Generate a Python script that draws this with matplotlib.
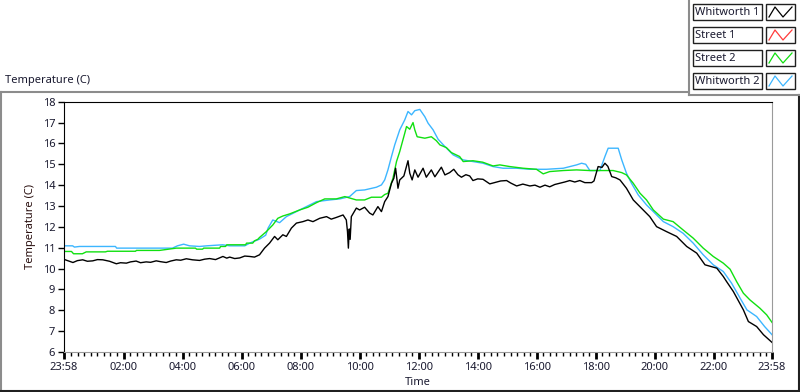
import matplotlib
matplotlib.use("Agg")
import matplotlib.pyplot as plt
from matplotlib.lines import Line2D
from matplotlib.patches import Rectangle

# hours after 23:58 (start of the record) and temperatures in C
w1_hours = [0, 0.14, 0.32, 0.47, 0.65, 0.81, 0.99, 1.15, 1.33, 1.56, 1.79, 1.93, 2.13, 2.27,
            2.46, 2.61, 2.80, 2.95, 3.14, 3.29, 3.48, 3.63, 3.82, 3.97, 4.16, 4.37, 4.61, 4.78,
            4.95, 5.15, 5.40, 5.53, 5.63, 5.80, 5.97, 6.14, 6.31, 6.47, 6.64, 6.81, 6.98, 7.15,
            7.26, 7.43, 7.55, 7.72, 7.89, 8.11, 8.28, 8.45, 8.68, 8.91, 9.07, 9.24, 9.47, 9.58,
            9.62, 9.65, 9.68, 9.71, 9.75, 9.92, 10.03, 10.20, 10.37, 10.48, 10.65, 10.77, 10.88,
            10.99, 11.11, 11.19, 11.25, 11.33, 11.39, 11.53, 11.67, 11.73, 11.81, 11.90, 12.01,
            12.18, 12.29, 12.46, 12.58, 12.80, 12.92, 13.08, 13.22, 13.36, 13.48, 13.63, 13.76,
            13.87, 14.03, 14.21, 14.44, 14.67, 14.81, 15.01, 15.15, 15.35, 15.56, 15.80, 15.97,
            16.14, 16.31, 16.47, 16.64, 16.81, 16.98, 17.15, 17.32, 17.49, 17.66, 17.89, 17.97,
            18.11, 18.24, 18.34, 18.44, 18.57, 18.71, 18.85, 19.07, 19.30, 19.58, 19.86, 20.09,
            20.43, 20.77, 21.11, 21.45, 21.73, 22.13, 22.35, 22.46, 22.69, 23.03, 23.20, 23.48,
            23.71, 24.0]
w1_temp = [10.45, 10.38, 10.29, 10.38, 10.42, 10.35, 10.37, 10.43, 10.42, 10.35, 10.23, 10.28,
           10.26, 10.32, 10.36, 10.28, 10.32, 10.30, 10.37, 10.33, 10.29, 10.36, 10.42, 10.40,
           10.47, 10.42, 10.39, 10.45, 10.48, 10.43, 10.58, 10.50, 10.55, 10.48, 10.51, 10.60,
           10.58, 10.55, 10.66, 10.98, 11.22, 11.54, 11.38, 11.62, 11.54, 11.94, 12.18, 12.25,
           12.33, 12.25, 12.41, 12.49, 12.37, 12.45, 12.57, 12.33, 11.77, 10.98, 11.90, 11.40,
           12.49, 12.90, 12.81, 12.94, 12.66, 12.57, 12.97, 12.73, 13.21, 13.45, 14.09, 14.33,
           14.81, 13.85, 14.25, 14.44, 15.17, 14.57, 14.25, 14.73, 14.38, 14.81, 14.38, 14.73,
           14.40, 14.86, 14.49, 14.60, 14.76, 14.50, 14.38, 14.50, 14.44, 14.22, 14.30, 14.28,
           14.06, 14.15, 14.20, 14.22, 14.10, 13.96, 14.05, 13.96, 14.00, 13.90, 14.00, 13.92,
           14.03, 14.09, 14.15, 14.22, 14.15, 14.22, 14.12, 14.12, 14.20, 14.89, 14.85, 15.05,
           14.90, 14.41, 14.35, 14.25, 13.85, 13.29, 12.89, 12.49, 12.01, 11.77, 11.54, 11.06,
           10.74, 10.18, 10.02, 9.62, 9.38, 8.90, 8.02, 7.46, 7.22, 6.83, 6.46]

s1_hours = []
s1_temp = []

s2_hours = [0, 0.27, 0.34, 0.64, 0.77, 1.42, 1.49, 2.44, 2.47, 3.25, 3.82, 4.47, 4.51, 4.71,
            4.75, 5.29, 5.32, 5.49, 5.53, 6.17, 6.20, 6.41, 6.47, 6.58, 6.64, 6.87, 7.09, 7.26,
            7.43, 7.66, 8.00, 8.28, 8.57, 8.85, 9.24, 9.53, 9.92, 10.20, 10.43, 10.77, 10.88,
            10.99, 11.16, 11.28, 11.39, 11.56, 11.62, 11.73, 11.84, 11.90, 11.98, 12.24, 12.46,
            12.63, 12.75, 12.97, 13.14, 13.42, 13.54, 13.87, 14.20, 14.55, 14.78, 15.12, 15.57,
            16.02, 16.25, 16.47, 16.93, 17.38, 17.81, 18.17, 18.62, 18.91, 19.07, 19.30, 19.53,
            19.75, 19.98, 20.32, 20.65, 20.99, 21.33, 21.67, 22.01, 22.35, 22.58, 22.80, 23.03,
            23.25, 23.59, 23.82, 24.0]
s2_temp = [10.82, 10.82, 10.71, 10.71, 10.80, 10.80, 10.83, 10.83, 10.87, 10.87, 10.98, 10.98,
           10.93, 10.93, 10.98, 10.98, 11.06, 11.06, 11.14, 11.14, 11.22, 11.22, 11.33, 11.40,
           11.49, 11.77, 12.09, 12.41, 12.52, 12.62, 12.81, 12.94, 13.16, 13.34, 13.34, 13.45,
           13.29, 13.29, 13.42, 13.42, 13.55, 13.61, 14.33, 15.13, 15.61, 16.49, 16.81, 16.68,
           17.00, 16.65, 16.32, 16.25, 16.32, 16.13, 15.93, 15.80, 15.56, 15.37, 15.13, 15.17,
           15.10, 14.92, 14.97, 14.89, 14.81, 14.76, 14.54, 14.65, 14.70, 14.73, 14.70, 14.70,
           14.70, 14.60, 14.49, 14.09, 13.61, 13.29, 12.81, 12.37, 12.25, 11.85, 11.46, 10.98,
           10.58, 10.26, 9.97, 9.38, 8.82, 8.50, 8.10, 7.78, 7.42]

w2_hours = [0, 0.31, 0.37, 0.54, 1.76, 1.80, 3.69, 3.86, 4.07, 4.27, 4.61, 4.85, 5.39, 5.63,
            6.14, 6.31, 6.41, 6.64, 6.85, 6.93, 7.09, 7.32, 7.55, 8.00, 8.57, 9.02, 9.36, 9.69,
            9.92, 10.20, 10.60, 10.77, 10.88, 10.99, 11.11, 11.22, 11.39, 11.56, 11.67, 11.79,
            11.90, 12.07, 12.24, 12.35, 12.52, 12.69, 12.92, 13.20, 13.54, 13.87, 14.21, 14.55,
            14.89, 15.35, 15.80, 16.36, 16.93, 17.38, 17.55, 17.69, 17.83, 18.17, 18.34, 18.45,
            18.79, 18.91, 19.07, 19.24, 19.47, 19.75, 19.98, 20.32, 20.65, 20.99, 21.33, 21.67,
            22.01, 22.35, 22.63, 22.92, 23.15, 23.48, 23.75, 24.0]
w2_temp = [11.09, 11.09, 11.03, 11.06, 11.06, 10.98, 10.98, 11.09, 11.17, 11.09, 11.06, 11.09,
           11.14, 11.09, 11.09, 11.22, 11.28, 11.41, 11.60, 11.94, 12.33, 12.20, 12.49, 12.81,
           13.21, 13.29, 13.34, 13.45, 13.74, 13.77, 13.90, 14.01, 14.25, 14.73, 15.37, 15.93,
           16.65, 17.13, 17.53, 17.37, 17.57, 17.63, 17.28, 16.97, 16.65, 16.20, 15.85, 15.45,
           15.21, 15.13, 15.05, 14.89, 14.81, 14.81, 14.76, 14.76, 14.81, 14.97, 15.05, 15.00,
           14.70, 14.70, 15.37, 15.77, 15.77, 15.21, 14.57, 14.09, 13.53, 13.05, 12.73, 12.25,
           12.01, 11.69, 11.22, 10.66, 10.18, 9.86, 9.30, 8.58, 8.02, 7.70, 7.22, 6.83]

series_names = ["Whitworth 1", "Street 1", "Street 2", "Whitworth 2"]
series_colors = ["#000000", "#FF3B3B", "#10E010", "#3CB6FF"]

x_major = [0, 2 + 2 / 60, 4 + 2 / 60, 6 + 2 / 60, 8 + 2 / 60, 10 + 2 / 60, 12 + 2 / 60,
           14 + 2 / 60, 16 + 2 / 60, 18 + 2 / 60, 20 + 2 / 60, 22 + 2 / 60, 24]
x_labels = ["23:58", "02:00", "04:00", "06:00", "08:00", "10:00", "12:00", "14:00",
            "16:00", "18:00", "20:00", "22:00", "23:58"]

W, H = 800, 392
def fx(px):
    return px / W
def fy(py):
    return 1 - py / H

plt.rcParams["font.family"] = ["Noto Sans", "DejaVu Sans"]
fig = plt.figure(figsize=(8, 3.92), dpi=100)
fig.patch.set_facecolor("white")

ax = fig.add_axes([fx(63.5), fy(352), fx(772) - fx(63.5), fy(101.7) - fy(352)])
ax.plot(w2_hours, w2_temp, color=series_colors[3], lw=1.0)
ax.plot(s2_hours, s2_temp, color=series_colors[2], lw=1.0)
ax.plot(s1_hours, s1_temp, color=series_colors[1], lw=1.0)
ax.plot(w1_hours, w1_temp, color=series_colors[0], lw=1.0)

ax.set_xlim(0, 24)
ax.set_ylim(6, 18)
ax.set_yticks(range(6, 19))
ax.set_xticks(x_major)
ax.set_xticklabels(x_labels)
minors = [x_major[1] + k * (2 / 9) for k in range(-8, 99) if 0 < x_major[1] + k * (2 / 9) < 24]
ax.set_xticks(minors, minor=True)
ax.tick_params(axis="y", length=4, width=1, labelsize=8, colors="#000000", labelcolor="#1a1a30", pad=2)
ax.tick_params(axis="x", which="major", length=5, width=2, labelsize=8, labelcolor="#1a1a30", pad=2)
ax.tick_params(axis="x", which="minor", length=3, width=1)
for s in ["top", "left"]:
    ax.spines[s].set_color("black")
for s in ["bottom", "right"]:
    ax.spines[s].set_color("#9a9a9a")
ax.set_ylabel("Temperature (C)", fontsize=8, color="#2a1010", labelpad=5)
ax.set_xlabel("Time", fontsize=8, color="#1a1a30", labelpad=3)

# outer frame
frame_gray = "#8c8c8c"
fig.add_artist(Line2D([fx(0), fx(689)], [fy(92), fy(92)], color=frame_gray, lw=1.5, transform=fig.transFigure))
fig.add_artist(Line2D([fx(1), fx(1)], [fy(92), fy(390)], color=frame_gray, lw=1.5, transform=fig.transFigure))
fig.add_artist(Line2D([fx(0), fx(800)], [fy(390.5), fy(390.5)], color="#202020", lw=1.5, transform=fig.transFigure))
fig.add_artist(Line2D([fx(799), fx(799)], [fy(95), fy(391)], color="#202020", lw=1.5, transform=fig.transFigure))
fig.add_artist(Line2D([fx(689), fx(689)], [fy(0), fy(95)], color=frame_gray, lw=1.5, transform=fig.transFigure))
fig.add_artist(Line2D([fx(689), fx(800)], [fy(95), fy(95)], color=frame_gray, lw=1.5, transform=fig.transFigure))

fig.text(fx(5), fy(81), "Temperature (C)", fontsize=8, color="#1a1a30", va="center", ha="left")

# legend
for i, (name, col) in enumerate(zip(series_names, series_colors)):
    top = 4 + i * 23
    fig.add_artist(Rectangle((fx(693), fy(top + 16)), fx(762) - fx(693), fy(top) - fy(top + 16),
                             facecolor="white", edgecolor="#202020", lw=1, transform=fig.transFigure))
    fig.add_artist(Rectangle((fx(766), fy(top + 16)), fx(795) - fx(766), fy(top) - fy(top + 16),
                             facecolor="white", edgecolor="#202020", lw=1, transform=fig.transFigure))
    fig.text(fx(695), fy(top + 8.5), name, fontsize=8, color="#1a1a30", va="center", ha="left")
    fig.add_artist(Line2D([fx(769), fx(775), fx(783), fx(792)],
                          [fy(top + 13), fy(top + 3), fy(top + 13), fy(top + 3)],
                          color=col, lw=0.9, transform=fig.transFigure))

fig.savefig("out.png", dpi=100)
